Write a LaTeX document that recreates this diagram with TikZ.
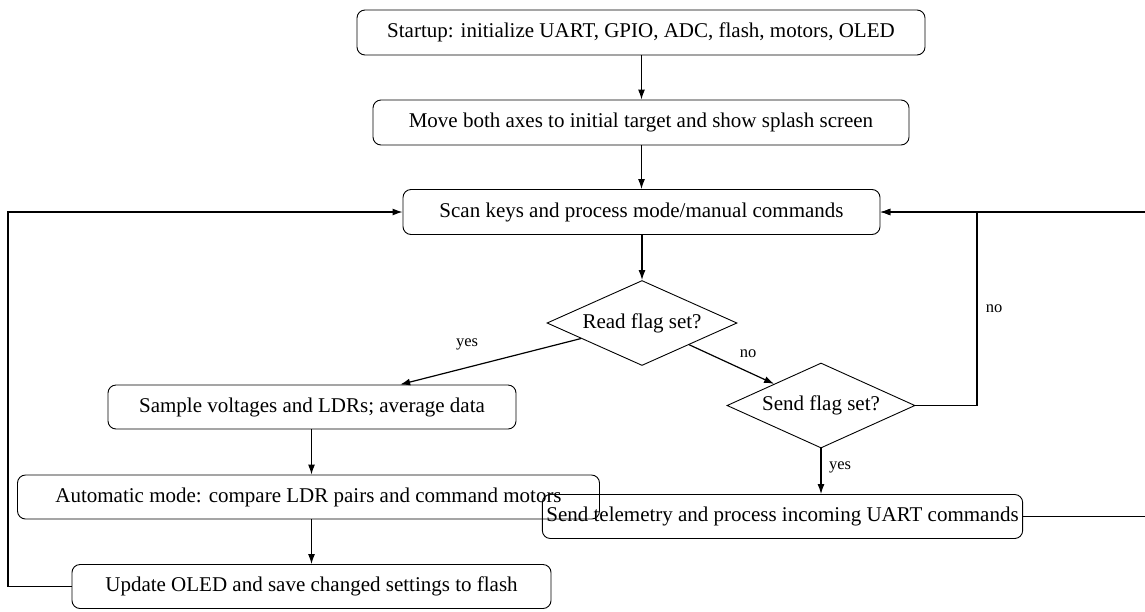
\documentclass[tikz,border=0pt]{standalone}
\usepackage{fontspec}
\setmainfont{Liberation Serif}
\usetikzlibrary{shapes.geometric,arrows.meta,calc}
\begin{document}
\begin{tikzpicture}[x=1pt,y=-1pt,
  font=\fontsize{21}{25}\selectfont,
  proc/.style={draw, rounded corners=8pt, line width=0.9pt, minimum height=45pt, inner xsep=4pt, inner ysep=0pt},
  decision/.style={draw, shape=diamond, shape aspect=2.24, line width=0.9pt, inner sep=0pt},
  flow/.style={-{Latex[length=10pt,width=7pt]}, line width=1.2pt},
  lbl/.style={font=\fontsize{16.5}{19}\selectfont, inner sep=0pt, anchor=center}]
\useasboundingbox (0,0) rectangle (1145,611);
\clip (0,0) rectangle (1145,611);

% process steps and decisions
\node[proc, minimum width=568pt] (start) at (641,32.5) {Startup: initialize UART, GPIO, ADC, flash, motors, OLED};
\node[proc, minimum width=536pt] (move) at (641,122.5) {Move both axes to initial target and show splash screen};
\node[proc, minimum width=477pt] (scan) at (641.5,212) {Scan keys and process mode/manual commands};
\node[decision, minimum width=190pt, minimum height=85pt] (read) at (642,323) {Read flag set?};
\node[proc, minimum width=408pt, minimum height=44pt] (sample) at (312,407) {Sample voltages and LDRs; average data};
\node[decision, minimum width=188pt, minimum height=85pt] (send) at (821,405.5) {Send flag set?};
\node[proc, minimum width=582pt, minimum height=44pt] (auto) at (308.5,497) {Automatic mode: compare LDR pairs and command motors};
\node[proc, minimum width=471pt, minimum height=44pt] (tele) at (782.5,516.5) {Send telemetry and process incoming UART commands};
\node[proc, minimum width=479pt, minimum height=44pt] (update) at (311.5,586.5) {Update OLED and save changed settings to flash};

% main sequence
\draw[flow] (start.south -| scan.north) -- (move.north -| scan.north);
\draw[flow] (move.south -| scan.north) -- (scan.north);
\draw[flow] (scan.south -| read.north) -- (read.north);
\draw[flow] (read) -- node[lbl, midway, xshift=-23.5pt, yshift=17pt] {yes} (sample);
\draw[flow] (read) -- node[lbl, midway, xshift=16.5pt, yshift=11pt] {no} (send);
\draw[flow] (send.south) -- node[lbl, midway, xshift=19pt, yshift=3.5pt] {yes} (send.south |- tele.north);
\draw[flow] (sample.south -| update.north) -- (auto.north -| update.north);
\draw[flow] (auto.south -| update.north) -- (update.north);

% loops back to the key scan
\coordinate (lx) at (8,0);
\coordinate (nx) at (977,0);
\coordinate (rx) at (1160,0);
\draw[flow] (update.west) -- (update.west -| lx) |- (scan.west);
\draw[flow] (send.east) -- (send.east -| nx) |- node[lbl, pos=0.25, xshift=17pt] {no} (scan.east);
\draw[flow] (tele.east) -- (tele.east -| rx) |- (scan.east);
\end{tikzpicture}
\end{document}
